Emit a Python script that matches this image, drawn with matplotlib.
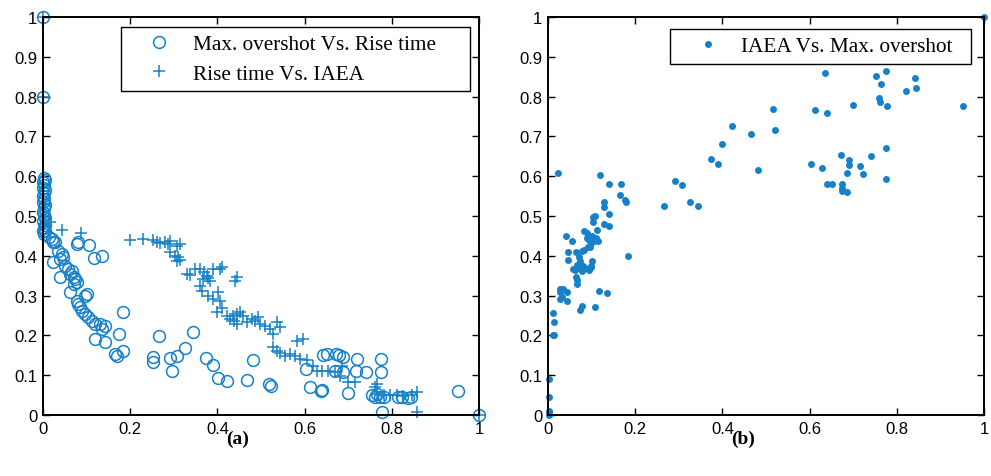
import numpy as np
import matplotlib
matplotlib.use("Agg")
import matplotlib.pyplot as plt

BLUE = '#1681c8'

# (a) Max. overshot Vs. Rise time (circles)
mo_rt_x = [0, 0,
           0.002, 0.004, 0.0, 0.003, 0.001, 0.004, 0.002, 0.0, 0.003, 0.001,
           0.004, 0.002, 0.0, 0.003, 0.005, 0.001, 0.004, 0.002, 0.0, 0.003,
           0.005, 0.013, 0.020, 0.028, 0.024,
           0.077, 0.081, 0.106, 0.117, 0.136,
           0.035, 0.043, 0.047, 0.039, 0.024,
           0.050, 0.058, 0.062, 0.066, 0.039,
           0.070, 0.073, 0.077, 0.070, 0.062,
           0.096, 0.100, 0.077, 0.081, 0.085,
           0.089, 0.096, 0.104, 0.112, 0.119,
           0.131, 0.142, 0.135, 0.119, 0.142,
           0.165, 0.169, 0.183, 0.175, 0.184,
           0.253, 0.253, 0.267, 0.291, 0.295,
           0.307, 0.326, 0.345, 0.374, 0.389,
           0.402, 0.421, 0.467, 0.482, 0.518, 0.522,
           0.603, 0.612, 0.637, 0.640, 0.643, 0.651,
           0.673, 0.679, 0.689, 0.670, 0.689, 0.699,
           0.718, 0.721, 0.741, 0.775, 0.775,
           0.754, 0.761, 0.765, 0.773, 0.781, 0.777,
           0.815, 0.823, 0.838, 0.845, 0.951, 1.0]
mo_rt_y = [1.0, 0.80,
           0.595, 0.59, 0.585, 0.578, 0.57, 0.565, 0.558, 0.55, 0.543, 0.535,
           0.528, 0.52, 0.51, 0.502, 0.495, 0.487, 0.478, 0.47, 0.462, 0.455,
           0.463, 0.446, 0.442, 0.434, 0.434,
           0.430, 0.434, 0.427, 0.395, 0.400,
           0.413, 0.405, 0.396, 0.392, 0.384,
           0.375, 0.367, 0.354, 0.363, 0.346,
           0.346, 0.342, 0.333, 0.329, 0.308,
           0.300, 0.304, 0.287, 0.279, 0.271,
           0.262, 0.254, 0.245, 0.237, 0.229,
           0.229, 0.224, 0.216, 0.191, 0.184,
           0.153, 0.149, 0.162, 0.204, 0.258,
           0.145, 0.132, 0.199, 0.143, 0.110,
           0.149, 0.168, 0.208, 0.142, 0.126,
           0.093, 0.085, 0.088, 0.137, 0.078, 0.074,
           0.116, 0.070, 0.060, 0.062, 0.151, 0.153,
           0.153, 0.151, 0.145, 0.111, 0.109, 0.055,
           0.111, 0.141, 0.109, 0.141, 0.109,
           0.050, 0.046, 0.054, 0.046, 0.046, 0.007,
           0.046, 0.046, 0.042, 0.046, 0.060, 0.0]

# (a) Rise time Vs. IAEA (plus)
rt_iaea_x = [0, 0, 1.0,
             0.003, 0.002, 0.004, 0.016, 0.044, 0.087,
             0.200, 0.229, 0.253, 0.262, 0.268, 0.280, 0.287, 0.291, 0.308, 0.314,
             0.291, 0.303, 0.310, 0.314, 0.308,
             0.330, 0.337, 0.349, 0.360, 0.369, 0.375, 0.379, 0.383, 0.367, 0.391, 0.406, 0.410,
             0.440, 0.444, 0.360, 0.364,
             0.379, 0.391, 0.402, 0.406,
             0.398, 0.410, 0.421, 0.429, 0.436, 0.444, 0.452, 0.459,
             0.437, 0.444, 0.467, 0.479, 0.486, 0.494, 0.498, 0.509, 0.521, 0.528, 0.536,
             0.528, 0.536, 0.544, 0.544, 0.555, 0.567, 0.578, 0.582, 0.597,
             0.589, 0.605, 0.620, 0.628, 0.639, 0.654, 0.670, 0.681, 0.685, 0.700, 0.716,
             0.765, 0.761, 0.765, 0.781, 0.796, 0.811, 0.826, 0.846, 0.857, 0.857]
rt_iaea_y = [1.0, 0.80, 0.0,
             0.48, 0.50, 0.53, 0.484, 0.465, 0.457,
             0.440, 0.442, 0.440, 0.435, 0.432, 0.435, 0.430, 0.438, 0.425, 0.430,
             0.409, 0.400, 0.396, 0.390, 0.388,
             0.354, 0.352, 0.367, 0.367, 0.359, 0.350, 0.343, 0.337, 0.342, 0.367, 0.367, 0.371,
             0.337, 0.346, 0.325, 0.312,
             0.300, 0.291, 0.308, 0.287,
             0.258, 0.270, 0.249, 0.241, 0.249, 0.254, 0.258, 0.249,
             0.237, 0.229, 0.233, 0.241, 0.237, 0.245, 0.229, 0.224, 0.216, 0.204, 0.233,
             0.170, 0.162, 0.220, 0.157, 0.149, 0.153, 0.149, 0.187, 0.191,
             0.141, 0.137, 0.124, 0.111, 0.111, 0.111, 0.109, 0.099, 0.124, 0.084, 0.082,
             0.078, 0.070, 0.053, 0.050, 0.049, 0.049, 0.047, 0.049, 0.059, 0.007]

# (b) IAEA Vs. Max. overshot
iaea_mo_x = [1.0,
             0.635, 0.752, 0.775, 0.763, 0.842, 0.845, 0.820, 0.759, 0.762, 0.778, 0.951,
             0.699, 0.613, 0.639, 0.517, 0.521, 0.422, 0.466, 0.400, 0.374, 0.391, 0.482,
             0.775, 0.671, 0.740, 0.690, 0.690, 0.715, 0.604, 0.629, 0.686, 0.722, 0.775,
             0.641, 0.651, 0.674, 0.675, 0.674, 0.685,
             0.119, 0.141, 0.167, 0.164, 0.177, 0.180, 0.129, 0.129, 0.139, 0.104, 0.108, 0.103,
             0.291, 0.308, 0.267, 0.326, 0.345,
             0.129, 0.139, 0.113, 0.096, 0.183, 0.100, 0.099, 0.117, 0.135, 0.107,
             0.024, 0.041, 0.056, 0.083, 0.089,
             0.089, 0.095, 0.100, 0.105, 0.110, 0.115, 0.098,
             0.092, 0.046, 0.064, 0.077, 0.083, 0.071, 0.073, 0.046,
             0.066, 0.072, 0.078, 0.085, 0.062, 0.058, 0.080, 0.064, 0.066, 0.066, 0.098, 0.093,
             0.028, 0.035, 0.043, 0.028, 0.028, 0.031, 0.043,
             0.077, 0.073, 0.011, 0.014, 0.011, 0.014,
             0.002, 0.002, 0.002, 0.002, 0.003]
iaea_mo_y = [1.0,
             0.859, 0.852, 0.864, 0.832, 0.846, 0.821, 0.814, 0.796, 0.787, 0.776, 0.776,
             0.780, 0.766, 0.759, 0.769, 0.717, 0.725, 0.706, 0.682, 0.644, 0.630, 0.616,
             0.671, 0.654, 0.651, 0.641, 0.629, 0.626, 0.630, 0.620, 0.609, 0.606, 0.592,
             0.581, 0.581, 0.581, 0.570, 0.564, 0.560,
             0.602, 0.581, 0.581, 0.554, 0.540, 0.536, 0.536, 0.522, 0.505, 0.498, 0.501, 0.484,
             0.588, 0.578, 0.526, 0.536, 0.526,
             0.480, 0.476, 0.466, 0.421, 0.400, 0.386, 0.374, 0.312, 0.307, 0.271,
             0.609, 0.449, 0.438, 0.463, 0.457,
             0.445, 0.440, 0.450, 0.436, 0.445, 0.438, 0.432,
             0.421, 0.410, 0.410, 0.413, 0.415, 0.396, 0.388, 0.389,
             0.378, 0.370, 0.362, 0.370, 0.365, 0.367, 0.375, 0.346, 0.340, 0.329, 0.373, 0.365,
             0.317, 0.317, 0.310, 0.308, 0.291, 0.296, 0.287,
             0.275, 0.265, 0.256, 0.233, 0.202, 0.201,
             0.090, 0.045, 0.011, 0.005, 0.0]

x_ticks = [0, 0.2, 0.4, 0.6, 0.8, 1]
x_labels = ['0', '0.2', '0.4', '0.6', '0.8', '1']
y_ticks = [0, 0.1, 0.2, 0.3, 0.4, 0.5, 0.6, 0.7, 0.8, 0.9, 1]
y_labels = ['0', '0.1', '0.2', '0.3', '0.4', '0.5', '0.6', '0.7', '0.8', '0.9', '1']

fig = plt.figure(figsize=(9.91, 4.77), dpi=100)
ax1 = fig.add_axes([43 / 991, 61 / 477, 436 / 991, 398 / 477])
ax2 = fig.add_axes([548 / 991, 61 / 477, 436 / 991, 398 / 477])

ax1.plot(mo_rt_x, mo_rt_y, 'o', mfc='none', mec=BLUE, ms=8.5, mew=1.1,
         clip_on=False, label='Max. overshot Vs. Rise time     ')
ax1.plot(rt_iaea_x, rt_iaea_y, '+', color=BLUE, ms=9, mew=1.1,
         clip_on=False, label='Rise time Vs. IAEA')
ax2.plot(iaea_mo_x, iaea_mo_y, 'o', color=BLUE, ms=5, mew=0,
         clip_on=False, label='IAEA Vs. Max. overshot  ')

for ax in (ax1, ax2):
    ax.set_xlim(0, 1)
    ax.set_ylim(0, 1)
    ax.set_xticks(x_ticks)
    ax.set_xticklabels(x_labels, family='Liberation Sans', fontsize=12)
    ax.set_yticks(y_ticks)
    ax.set_yticklabels(y_labels, family='Liberation Sans', fontsize=12)
    ax.tick_params(direction='in', length=5, width=1, top=True, right=True, pad=4)
    for s in ax.spines.values():
        s.set_linewidth(1.4)

leg_kw = dict(prop={'family': 'Liberation Serif', 'size': 15.3},
              fancybox=False, edgecolor='black', framealpha=1,
              handletextpad=0.13, borderpad=0.35, labelspacing=0.45,
              handlelength=2.87, borderaxespad=0)
leg1 = ax1.legend(loc='upper right', bbox_to_anchor=(0.979, 0.975), **leg_kw)
leg1.get_frame().set_linewidth(1.0)
leg2 = ax2.legend(loc='upper right', bbox_to_anchor=(0.970, 0.970), **leg_kw)
leg2.get_frame().set_linewidth(1.0)

fig.text(238 / 991, 1 - 439 / 477, '(a)', family='Liberation Serif',
         fontsize=14, fontweight='bold', ha='center', va='center')
fig.text(743 / 991, 1 - 439 / 477, '(b)', family='Liberation Serif',
         fontsize=14, fontweight='bold', ha='center', va='center')

fig.savefig('out.png', dpi=100)
